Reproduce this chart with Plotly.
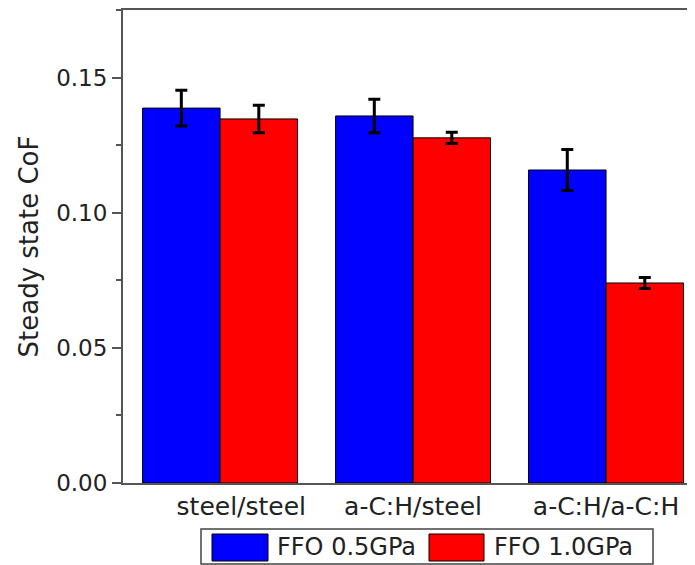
import plotly.graph_objects as go

categories = ["steel/steel", "a-C:H/steel", "a-C:H/a-C:H"]
label_pos = [0.11, 1, 2]
x_pos = [0, 1, 2]
series_names = ["FFO 0.5GPa", "FFO 1.0GPa"]
cof_05 = [0.1387, 0.1358, 0.1158]
err_05 = [0.0066, 0.0062, 0.0076]
cof_10 = [0.1347, 0.1277, 0.0740]
err_10 = [0.0051, 0.0021, 0.0020]
y_ticks = [0.00, 0.05, 0.10, 0.15]
colors = ["#0000ff", "#ff0000"]

FONT = "DejaVu Sans"
OFF = 8  # page body margin offset
fig = go.Figure()
for name, vals, errs, col in zip(series_names, [cof_05, cof_10], [err_05, err_10], colors):
    fig.add_trace(go.Bar(
        x=x_pos, y=vals, name=name,
        marker=dict(color=col, line=dict(color="#000000", width=1)),
        error_y=dict(type="data", array=errs, visible=True, color="#000000", thickness=3, width=6),
        showlegend=False,
    ))

W, H = 695 - OFF, 565 - OFF
L, R, T, B = 123 - OFF, 0, 10 - OFF, 82
pw, ph = W - L - R, H - T - B

def px(x):
    return (x - OFF - L) / pw

def py(y):
    return (H - B - (y - OFF)) / ph

# legend drawn manually to match large swatches (screen coords)
fig.add_shape(type="rect", xref="paper", yref="paper",
              x0=px(201), x1=px(653), y0=py(564), y1=py(529),
              line=dict(color="#444444", width=1.5), fillcolor="white")
sw = [(212, 268), (429, 484)]
tx = [275, 492]
for (a, b), t, name, col in zip(sw, tx, series_names, colors):
    fig.add_shape(type="rect", xref="paper", yref="paper",
                  x0=px(a), x1=px(b), y0=py(561), y1=py(534),
                  line=dict(color="#000000", width=1), fillcolor=col)
    fig.add_annotation(xref="paper", yref="paper", x=px(t), y=py(547.5),
                       text=name, showarrow=False, xanchor="left", yanchor="middle",
                       font=dict(family=FONT, size=24, color="#222222"))

fig.update_layout(
    width=W, height=H,
    margin=dict(l=L, r=R, t=T, b=B),
    paper_bgcolor="white", plot_bgcolor="white",
    barmode="group", bargap=0.197, bargroupgap=0,
    showlegend=False,
    font=dict(family=FONT, color="#222222"),
)
fig.update_xaxes(
    range=[-0.503, 2.461],
    tickmode="array", tickvals=label_pos, ticktext=categories,
    ticks="", showline=True, linecolor="#555555", linewidth=2, mirror=True,
    showgrid=False, zeroline=False,
    tickfont=dict(family=FONT, size=25, color="#222222"),
)
fig.update_yaxes(
    range=[0, 0.175],
    tickmode="array", tickvals=y_ticks, ticktext=[f"{v:.2f}" for v in y_ticks],
    ticks="outside", ticklen=9, tickwidth=1.5, tickcolor="#555555",
    minor=dict(dtick=0.025, ticks="outside", ticklen=5, tickwidth=1.5, tickcolor="#555555"),
    showline=True, linecolor="#555555", linewidth=2, mirror=False,
    showgrid=False, zeroline=False,
    tickfont=dict(family=FONT, size=23, color="#222222"),
    title=dict(text="Steady state CoF", font=dict(family=FONT, size=26, color="#222222"), standoff=10),
)
fig.write_html("out.html")
